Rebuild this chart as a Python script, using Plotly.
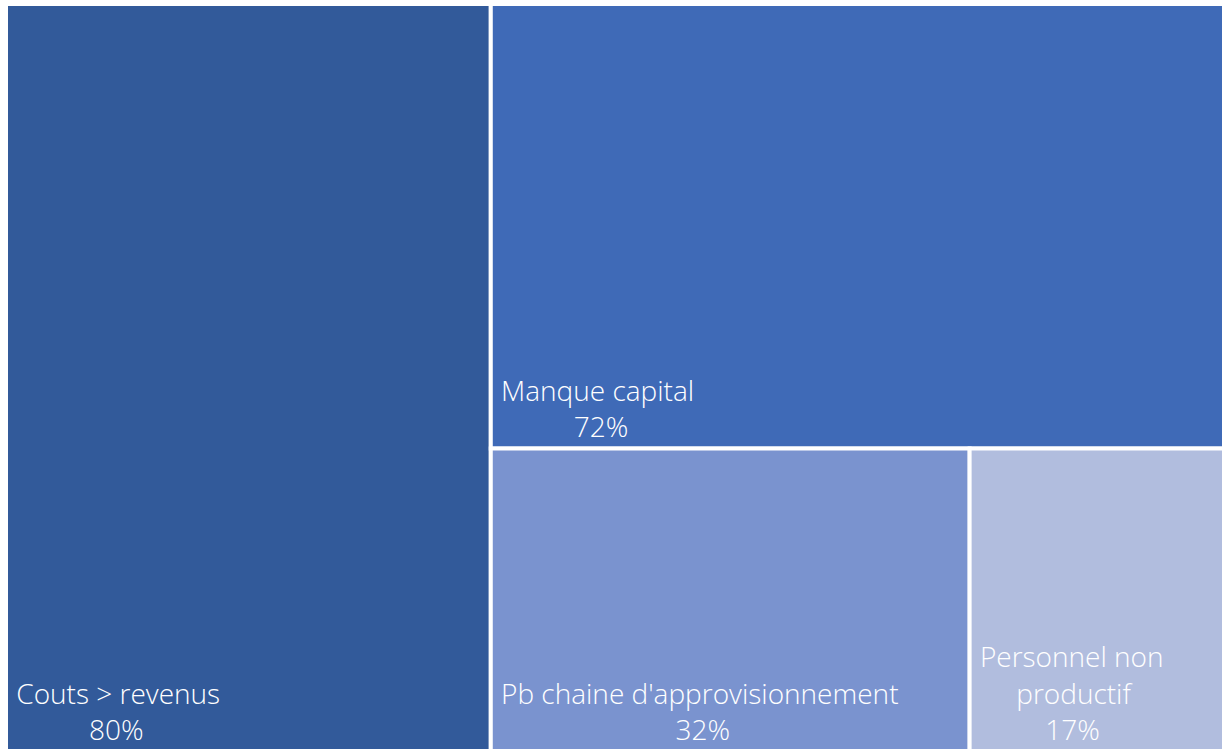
import plotly.graph_objects as go

# Share of respondents citing each difficulty (%)
labels = ["Couts > revenus", "Manque capital", "Pb chaine d'approvisionnement", "Personnel non<br>productif"]
values = [80, 72, 32, 17]
colors = ["#325A9A", "#3F6AB7", "#7A93CF", "#B1BDDE"]

FONT = "Open Sans"
SIZE = 28
LEFT_INDENT = 1  # non-breaking spaces before each text block


def text_width(s):
    # rough advance widths (em) for the label font
    narrow = set("iljtfr.'|! ")
    wide = set("mwMW%")
    w = 0.0
    for ch in s:
        if ch in narrow:
            w += 0.28
        elif ch in wide:
            w += 0.82
        elif ch.isupper() or ch.isdigit():
            w += 0.58
        else:
            w += 0.56
    return w


def centered_block(label, value):
    # centre every line of the block on its longest line using non-breaking spaces
    lines = label.split("<br>") + [f"{value}%"]
    widest = max(text_width(l) for l in lines)
    nbsp_w = 0.26
    out = []
    for l in lines:
        pad = int(round((widest - text_width(l)) / 2 / nbsp_w)) + LEFT_INDENT
        out.append("\u00a0" * pad + l)
    return "<br>".join(out)


texts = [centered_block(l, v) for l, v in zip(labels, values)]

fig = go.Figure(
    go.Treemap(
        labels=labels,
        parents=[""] * len(labels),
        values=values,
        text=texts,
        texttemplate="%{text}",
        textposition="bottom left",
        textfont=dict(family=FONT, size=SIZE, color="white", weight=300),
        marker=dict(
            colors=colors,
            line=dict(color="white", width=4),
            pad=dict(t=0, l=0, r=0, b=0),
        ),
        tiling=dict(packing="squarify", squarifyratio=1, pad=0),
        sort=True,
        hoverinfo="label+value",
        pathbar=dict(visible=False),
    )
)

fig.update_layout(
    width=1224,
    height=751,
    margin=dict(l=6, r=0, t=4, b=0),
    paper_bgcolor="white",
    showlegend=False,
)

fig.write_html("out.html")
